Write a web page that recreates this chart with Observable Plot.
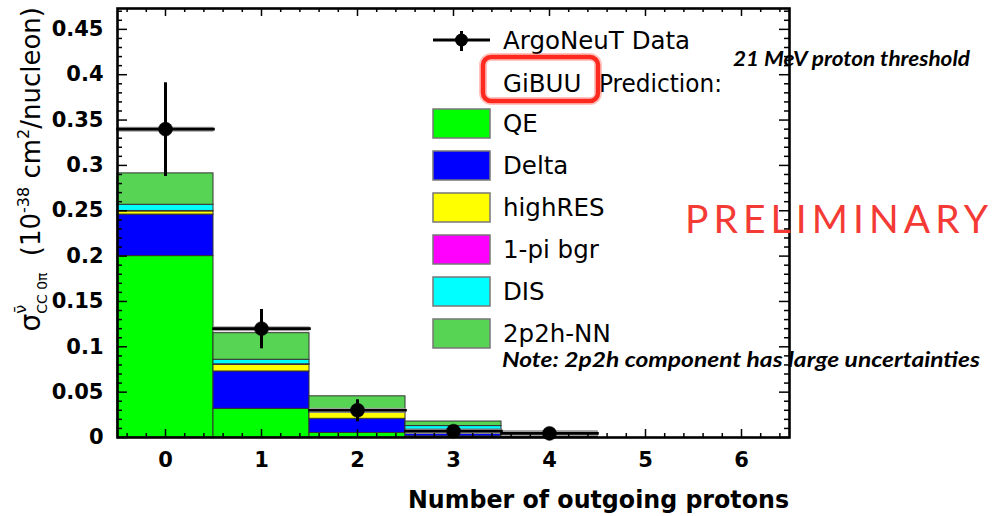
<!DOCTYPE html>
<html>
<head>
<meta charset="utf-8">
<script src="https://cdn.jsdelivr.net/npm/d3@7"></script>
<script src="https://cdn.jsdelivr.net/npm/@observablehq/plot@0.6"></script>
<style>
  html, body { margin: 0; padding: 0; background: #fff; }
</style>
</head>
<body>
<div id="chart"></div>
<script>
// Number of outgoing protons (bin centres) and axis labels
const protonBins = [0, 1, 2, 3, 4, 5, 6];
const xTickLabels = ["0", "1", "2", "3", "4", "5", "6"];
const yTicks = [0, 0.05, 0.1, 0.15, 0.2, 0.25, 0.3, 0.35, 0.4, 0.45];
const yTickLabels = ["0", "0.05", "0.1", "0.15", "0.2", "0.25", "0.3", "0.35", "0.4", "0.45"];

// GiBUU prediction split by channel (10^-38 cm^2/nucleon), stacked in this order
const components = ["QE", "Delta", "highRES", "1-pi bgr", "DIS", "2p2h-NN"];
const componentColors = ["#00ff00", "#0000ff", "#ffff00", "#ff00ff", "#00ffff", "#57d453"];
const qe       = [0.2000, 0.0316, 0.0050, 0.0012, 0.0004, 0, 0];
const delta    = [0.0458, 0.0412, 0.0156, 0.0030, 0.0010, 0, 0];
const highRes  = [0.0035, 0.0074, 0.0066, 0.0043, 0.0015, 0, 0];
const onePiBgr = [0.0005, 0.0005, 0.0002, 0.0001, 0.0000, 0, 0];
const dis      = [0.0068, 0.0050, 0.0030, 0.0040, 0.0010, 0, 0];
const twoP2h   = [0.0346, 0.0293, 0.0150, 0.0050, 0.0026, 0, 0];

// ArgoNeuT measurement
const dataBins   = [0, 1, 2, 3, 4];
const dataValues = [0.340, 0.120, 0.030, 0.007, 0.0045];
const dataErrors = [0.050, 0.020, 0.0105, 0.003, 0.002];

// Build stacked segments from the per-channel arrays
const channelValues = [qe, delta, highRes, onePiBgr, dis, twoP2h];
const segments = [];
protonBins.forEach((bin, i) => {
  let base = 0;
  components.forEach((name, c) => {
    const v = channelValues[c][i];
    if (v > 0) segments.push({bin, component: name, y1: base, y2: base + v});
    base += v;
  });
});
const points = dataBins.map((bin, i) => ({bin, value: dataValues[i], err: dataErrors[i]}));

const W = 996, H = 516;
const margin = {left: 117, right: 207, top: 8, bottom: 79};
const frameW = W - margin.left - margin.right;
const frameH = H - margin.top - margin.bottom;

const yMinor = d3.range(0, 0.471, 0.01).filter(v => Math.abs(v / 0.05 - Math.round(v / 0.05)) > 1e-6);
const xMinor = d3.range(-0.4, 6.5, 0.2).filter(v => Math.abs(v - Math.round(v)) > 1e-6);
const tickStyle = {stroke: "black", strokeWidth: 1.5};

const plot = Plot.plot({
  width: W,
  height: H,
  marginLeft: margin.left,
  marginRight: margin.right,
  marginTop: margin.top,
  marginBottom: margin.bottom,
  style: {fontFamily: "DejaVu Sans", background: "#fff", color: "black"},
  x: {domain: [-0.5, 6.5]},
  y: {domain: [0, 0.473]},
  color: {domain: components, range: componentColors},
  marks: [
    // stacked prediction
    Plot.rect(segments, {
      x1: d => d.bin - 0.5, x2: d => d.bin + 0.5,
      y1: "y1", y2: "y2", fill: "component",
      stroke: "#333", strokeWidth: 1
    }),
    // data: bin-width bars, error bars and markers
    Plot.link(points, {x1: d => d.bin - 0.5, x2: d => d.bin + 0.5, y1: "value", y2: "value",
      stroke: "#a0a0a0", strokeWidth: 5}),
    Plot.link(points, {x1: d => d.bin - 0.5, x2: d => d.bin + 0.5, y1: "value", y2: "value",
      stroke: "black", strokeWidth: 2.6, strokeLinecap: "square"}),
    Plot.link(points, {x1: "bin", x2: "bin", y1: d => d.value - d.err, y2: d => d.value + d.err,
      stroke: "black", strokeWidth: 3, strokeLinecap: "square"}),
    Plot.dot(points, {x: "bin", y: "value", r: 7, fill: "black", stroke: "black", strokeWidth: 0.5}),
    // inward ticks on all four sides
    Plot.ruleY(yTicks, {...tickStyle, insetRight: frameW - 10}),
    Plot.ruleY(yMinor, {...tickStyle, insetRight: frameW - 5}),
    Plot.ruleY(yTicks, {...tickStyle, insetLeft: frameW - 10}),
    Plot.ruleY(yMinor, {...tickStyle, insetLeft: frameW - 5}),
    Plot.ruleX(protonBins, {...tickStyle, insetTop: frameH - 8}),
    Plot.ruleX(xMinor, {...tickStyle, insetTop: frameH - 4}),
    Plot.ruleX(protonBins, {...tickStyle, insetBottom: frameH - 8}),
    Plot.ruleX(xMinor, {...tickStyle, insetBottom: frameH - 4}),
    Plot.axisY(yTicks, {
      tickSize: 0, tickPadding: 14, label: null,
      tickFormat: (d, i) => yTickLabels[i],
      fontSize: 21, fontWeight: "bold"
    }),
    Plot.axisX(protonBins, {
      tickSize: 0, tickPadding: 15, label: null,
      tickFormat: (d, i) => xTickLabels[i],
      fontSize: 21, fontWeight: "bold"
    }),
    Plot.frame({stroke: "black", strokeWidth: 2.6})
  ]
});

document.getElementById("chart").appendChild(plot);

const svg = d3.select(plot);
const overlay = svg.append("g").attr("class", "annotations").attr("text-anchor", "start");

// Axis titles
overlay.append("text")
  .attr("x", 789).attr("y", 508)
  .attr("text-anchor", "end")
  .attr("font-family", "DejaVu Sans").attr("font-weight", "bold").attr("font-size", 24)
  .attr("textLength", 381).attr("lengthAdjust", "spacingAndGlyphs")
  .text("Number of outgoing protons");

const yTitle = overlay.append("text")
  .attr("transform", "translate(40,7) rotate(-90)")
  .attr("text-anchor", "end")
  .attr("font-family", "DejaVu Sans").attr("font-size", 26);
yTitle.append("tspan").attr("font-size", 28).text("σ");
yTitle.append("tspan").attr("font-size", 16).attr("dy", -14).text("ν\u0304");
yTitle.append("tspan").attr("font-size", 14).attr("dx", -9).attr("dy", 21).text("CC 0π");
yTitle.append("tspan").attr("dy", -7).attr("dx", 8).text(" (10");
yTitle.append("tspan").attr("font-size", 16).attr("dy", -11).text("-38");
yTitle.append("tspan").attr("dy", 11).text(" cm");
yTitle.append("tspan").attr("font-size", 16).attr("dy", -11).text("2");
yTitle.append("tspan").attr("dy", 11).text("/nucleon)");

// Legend
const legend = overlay.append("g").attr("font-family", "DejaVu Sans").attr("font-size", 24.5)
  .attr("text-anchor", "start");
legend.append("line").attr("x1", 433).attr("x2", 490).attr("y1", 40).attr("y2", 40)
  .attr("stroke", "black").attr("stroke-width", 3);
legend.append("line").attr("x1", 461.5).attr("x2", 461.5).attr("y1", 31).attr("y2", 51)
  .attr("stroke", "black").attr("stroke-width", 3);
legend.append("circle").attr("cx", 461.5).attr("cy", 40).attr("r", 6.5).attr("fill", "black");
legend.append("text").attr("x", 503).attr("y", 48.5).text("ArgoNeuT Data");
const predHeader = legend.append("text").attr("x", 503).attr("y", 92);
predHeader.append("tspan").text("GiBUU");
predHeader.append("tspan").attr("x", 599).attr("textLength", 123).attr("lengthAdjust", "spacingAndGlyphs")
  .text("Prediction:");

components.forEach((name, i) => {
  const cy = 123.5 + i * 42;
  legend.append("rect").attr("x", 433).attr("y", cy - 14.5).attr("width", 57).attr("height", 29)
    .attr("fill", componentColors[i]).attr("stroke", "#777").attr("stroke-width", 1.5);
  legend.append("text").attr("x", 503).attr("y", cy + 8.7).text(name);
});

// Highlight around the generator name
overlay.append("rect").attr("x", 483).attr("y", 57).attr("width", 115).attr("height", 44)
  .attr("rx", 8).attr("fill", "none").attr("stroke", "#ff3b30").attr("stroke-opacity", 0.3)
  .attr("stroke-width", 8);
overlay.append("rect").attr("x", 483).attr("y", 57).attr("width", 115).attr("height", 44)
  .attr("rx", 8).attr("fill", "none").attr("stroke", "#ff2a1f").attr("stroke-width", 4.5);

// Notes
overlay.append("text").attr("x", 733).attr("y", 66)
  .attr("font-family", "Lato").attr("font-style", "italic").attr("font-weight", "bold")
  .attr("font-size", 20).attr("textLength", 237).attr("lengthAdjust", "spacingAndGlyphs")
  .text("21 MeV proton threshold");
overlay.append("text").attr("x", 502).attr("y", 367)
  .attr("font-family", "Lato").attr("font-style", "italic").attr("font-weight", "bold")
  .attr("font-size", 20).attr("textLength", 478).attr("lengthAdjust", "spacingAndGlyphs")
  .text("Note: 2p2h component has large uncertainties");
overlay.append("text").attr("x", 685).attr("y", 233)
  .attr("font-family", "Lato").attr("font-size", 39).attr("fill", "#f43a35")
  .attr("textLength", 303).attr("lengthAdjust", "spacing")
  .text("PRELIMINARY");

// Keep the frame and axis ticks above the annotations
svg.selectAll("g[aria-label='rule']").raise();
svg.selectAll("g[aria-label='frame']").raise();
</script>
</body>
</html>
